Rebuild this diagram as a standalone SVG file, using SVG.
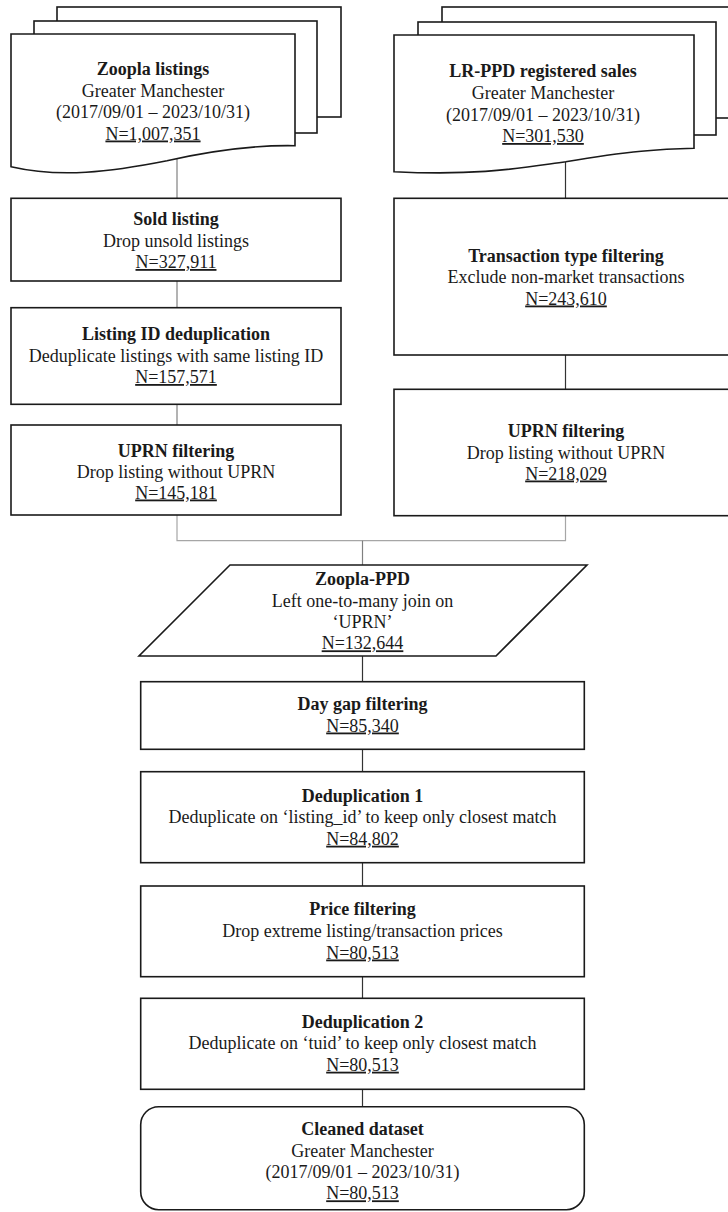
<svg xmlns="http://www.w3.org/2000/svg" width="728" height="1212" viewBox="0 0 728 1212">
<style>
.box{fill:#fff;stroke:#1a1a1a;stroke-width:1.6}
.t{font-family:"Liberation Serif","Times New Roman",serif;font-size:18px;fill:#1a1a1a;text-anchor:middle}
.b{font-weight:bold}
.u{text-decoration:underline}
.c1{fill:none;stroke:#808080;stroke-width:1.2}
.c2{fill:none;stroke:#a6a6a6;stroke-width:1.2}
.c3{fill:none;stroke:#333;stroke-width:1.2}
</style>
<rect width="728" height="1212" fill="#fff"/>
<g id="connectors">
<line class="c1" x1="177" y1="159" x2="177" y2="198"/>
<line class="c1" x1="177" y1="281" x2="177" y2="308"/>
<line class="c1" x1="177" y1="404" x2="177" y2="425"/>
<line class="c3" x1="565.5" y1="161.5" x2="565.5" y2="198"/>
<line class="c3" x1="565.5" y1="355" x2="565.5" y2="389"/>
<path class="c2" d="M177,515 V540.7 H565.5 V515.7"/>
<line class="c1" x1="362.5" y1="540.7" x2="362.5" y2="565"/>
<line class="c3" x1="362.5" y1="656" x2="362.5" y2="681.7"/>
<line class="c3" x1="362.5" y1="749.3" x2="362.5" y2="771.7"/>
<line class="c3" x1="362.5" y1="862.7" x2="362.5" y2="886"/>
<line class="c3" x1="362.5" y1="976.7" x2="362.5" y2="998.3"/>
<line class="c3" x1="362.5" y1="1089.3" x2="362.5" y2="1106.7"/>
</g>
<g id="zoopla-listings">
<rect class="box" x="57" y="7" width="284" height="110"/>
<rect class="box" x="34" y="21" width="283" height="112"/>
<path class="box" d="M11,34 H295 V145.7 C260,145 215,150 167,160.7 C110,172 60,178 11,166.7 Z"/>
<text class="t b" x="153" y="75">Zoopla listings</text>
<text class="t" x="153" y="96.5">Greater Manchester</text>
<text class="t" x="153" y="118">(2017/09/01 – 2023/10/31)</text>
<text class="t u" x="153" y="139.5">N=1,007,351</text>
</g>
<g id="lrppd-sales">
<rect class="box" x="442" y="7" width="310" height="111"/>
<rect class="box" x="418" y="22" width="298" height="113"/>
<path class="box" d="M394,35 H694 V148.3 C660,149 630,151 565.7,161.7 C520,168 480,176 394,171.7 Z"/>
<text class="t b" x="543" y="77.3">LR-PPD registered sales</text>
<text class="t" x="543" y="99">Greater Manchester</text>
<text class="t" x="543" y="120.5">(2017/09/01 – 2023/10/31)</text>
<text class="t u" x="543" y="142">N=301,530</text>
</g>
<g id="sold-listing">
<rect class="box" x="11" y="198.3" width="330" height="82.7"/>
<text class="t b" x="176" y="225">Sold listing</text>
<text class="t" x="176" y="246.5">Drop unsold listings</text>
<text class="t u" x="176" y="268">N=327,911</text>
</g>
<g id="listing-id-dedup">
<rect class="box" x="11" y="307.7" width="330" height="96.6"/>
<text class="t b" x="176" y="340">Listing ID deduplication</text>
<text class="t" x="176" y="361.5">Deduplicate listings with same listing ID</text>
<text class="t u" x="176" y="383">N=157,571</text>
</g>
<g id="uprn-filtering-left">
<rect class="box" x="11" y="425" width="330" height="90"/>
<text class="t b" x="176" y="456.5">UPRN filtering</text>
<text class="t" x="176" y="477.5">Drop listing without UPRN</text>
<text class="t u" x="176" y="498.5">N=145,181</text>
</g>
<g id="transaction-type">
<rect class="box" x="394" y="198.3" width="343" height="156.7"/>
<text class="t b" x="566" y="261.5">Transaction type filtering</text>
<text class="t" x="566" y="283">Exclude non-market transactions</text>
<text class="t u" x="566" y="304.5">N=243,610</text>
</g>
<g id="uprn-filtering-right">
<rect class="box" x="394" y="389.3" width="343" height="126.4"/>
<text class="t b" x="566" y="437.3">UPRN filtering</text>
<text class="t" x="566" y="458.5">Drop listing without UPRN</text>
<text class="t u" x="566" y="479.5">N=218,029</text>
</g>
<g id="zoopla-ppd">
<polygon class="box" points="230,565 587,565 496,656 139,656"/>
<text class="t b" x="362.5" y="585">Zoopla-PPD</text>
<text class="t" x="362.5" y="606.5">Left one-to-many join on</text>
<text class="t" x="362.5" y="628">‘UPRN’</text>
<text class="t u" x="362.5" y="649.3">N=132,644</text>
</g>
<g id="day-gap">
<rect class="box" x="140.7" y="681.7" width="443.6" height="67.6"/>
<text class="t b" x="362.5" y="710">Day gap filtering</text>
<text class="t u" x="362.5" y="731.5">N=85,340</text>
</g>
<g id="dedup-1">
<rect class="box" x="140.7" y="771.7" width="443.6" height="91"/>
<text class="t b" x="362.5" y="801.5">Deduplication 1</text>
<text class="t" x="362.5" y="823">Deduplicate on ‘listing_id’ to keep only closest match</text>
<text class="t u" x="362.5" y="844.7">N=84,802</text>
</g>
<g id="price-filtering">
<rect class="box" x="140.7" y="886" width="443.6" height="90.7"/>
<text class="t b" x="362.5" y="915">Price filtering</text>
<text class="t" x="362.5" y="936.5">Drop extreme listing/transaction prices</text>
<text class="t u" x="362.5" y="958.5">N=80,513</text>
</g>
<g id="dedup-2">
<rect class="box" x="140.7" y="998.3" width="443.6" height="91"/>
<text class="t b" x="362.5" y="1028">Deduplication 2</text>
<text class="t" x="362.5" y="1049.3">Deduplicate on ‘tuid’ to keep only closest match</text>
<text class="t u" x="362.5" y="1070.7">N=80,513</text>
</g>
<g id="cleaned-dataset">
<rect class="box" x="140.7" y="1106.7" width="443.6" height="103" rx="18" ry="18"/>
<text class="t b" x="362.5" y="1135">Cleaned dataset</text>
<text class="t" x="362.5" y="1156.5">Greater Manchester</text>
<text class="t" x="362.5" y="1178">(2017/09/01 – 2023/10/31)</text>
<text class="t u" x="362.5" y="1199.3">N=80,513</text>
</g>
</svg>
